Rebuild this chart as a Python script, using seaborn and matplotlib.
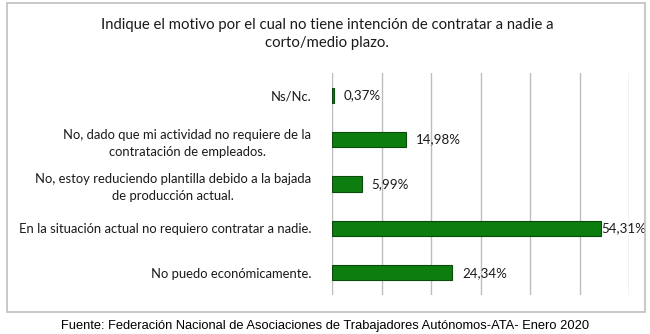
import matplotlib
matplotlib.use("Agg")
import matplotlib.pyplot as plt
from matplotlib.patches import Rectangle
import seaborn as sns
import pandas as pd

title = "Indique el motivo por el cual no tiene intención de contratar a nadie a\ncorto/medio plazo."
source = "Fuente: Federación Nacional de Asociaciones de Trabajadores Autónomos-ATA- Enero 2020"
categories = [
    "Ns/Nc.",
    "No, dado que mi actividad no requiere de la\ncontratación de empleados.",
    "No, estoy reduciendo plantilla debido a la bajada\nde producción actual.",
    "En la situación actual no requiero contratar a nadie.",
    "No puedo económicamente.",
]
values = [0.37, 14.98, 5.99, 54.31, 24.34]
value_labels = ["0,37%", "14,98%", "5,99%", "54,31%", "24,34%"]

df = pd.DataFrame({"cat": categories, "val": values})

sns.set_theme(style="white")
plt.rcParams["font.family"] = ["Lato", "DejaVu Sans"]

W, H = 650, 334
fig = plt.figure(figsize=(6.5, 3.34), dpi=100)
ax = fig.add_axes([332 / W, 1 - 295 / H, (629 - 332) / W, (295 - 73) / H])

sns.barplot(data=df, x="val", y="cat", orient="h", ax=ax, color="#0E7D10",
            saturation=1, width=0.34, edgecolor="#0A4A0A", linewidth=0.8)

ax.set_xlim(0, 60)
ax.set_xticks(range(0, 61, 10))
ax.xaxis.grid(True, color="#BDBDBD", linewidth=1)
ax.set_axisbelow(True)
for s in ax.spines.values():
    s.set_visible(False)
ax.set_xlabel("")
ax.set_ylabel("")
ax.tick_params(axis="x", length=0, labelbottom=False)
ax.tick_params(axis="y", length=0, pad=15, labelsize=9.4, labelcolor="#1a1a1a")
for t in ax.get_yticklabels():
    t.set_multialignment("center")
    t.set_linespacing(1.5)

for i, (v, lab) in enumerate(zip(values, value_labels)):
    off = 0 if v > 50 else 10
    ax.annotate(lab, (v, i), xytext=(off, 0), textcoords="offset pixels",
                va="center", ha="left", fontsize=9.6, color="#1a1a1a",
                annotation_clip=False)

fig.text(327 / W, 1 - 34 / H, title, ha="center", va="center", fontsize=10.75,
         color="#1a1a1a", linespacing=1.4)
fig.text(325 / W, 1 - 326 / H, source, ha="center", va="center", fontsize=9.3,
         family=["Liberation Sans", "DejaVu Sans"], color="black")

fig.patches.append(Rectangle((7 / W, 1 - 312 / H), (645 - 7) / W, (312 - 3) / H,
                             transform=fig.transFigure, fill=False,
                             edgecolor="#BFBFBF", linewidth=1.2))

fig.savefig("out.png", dpi=100, facecolor="white")
